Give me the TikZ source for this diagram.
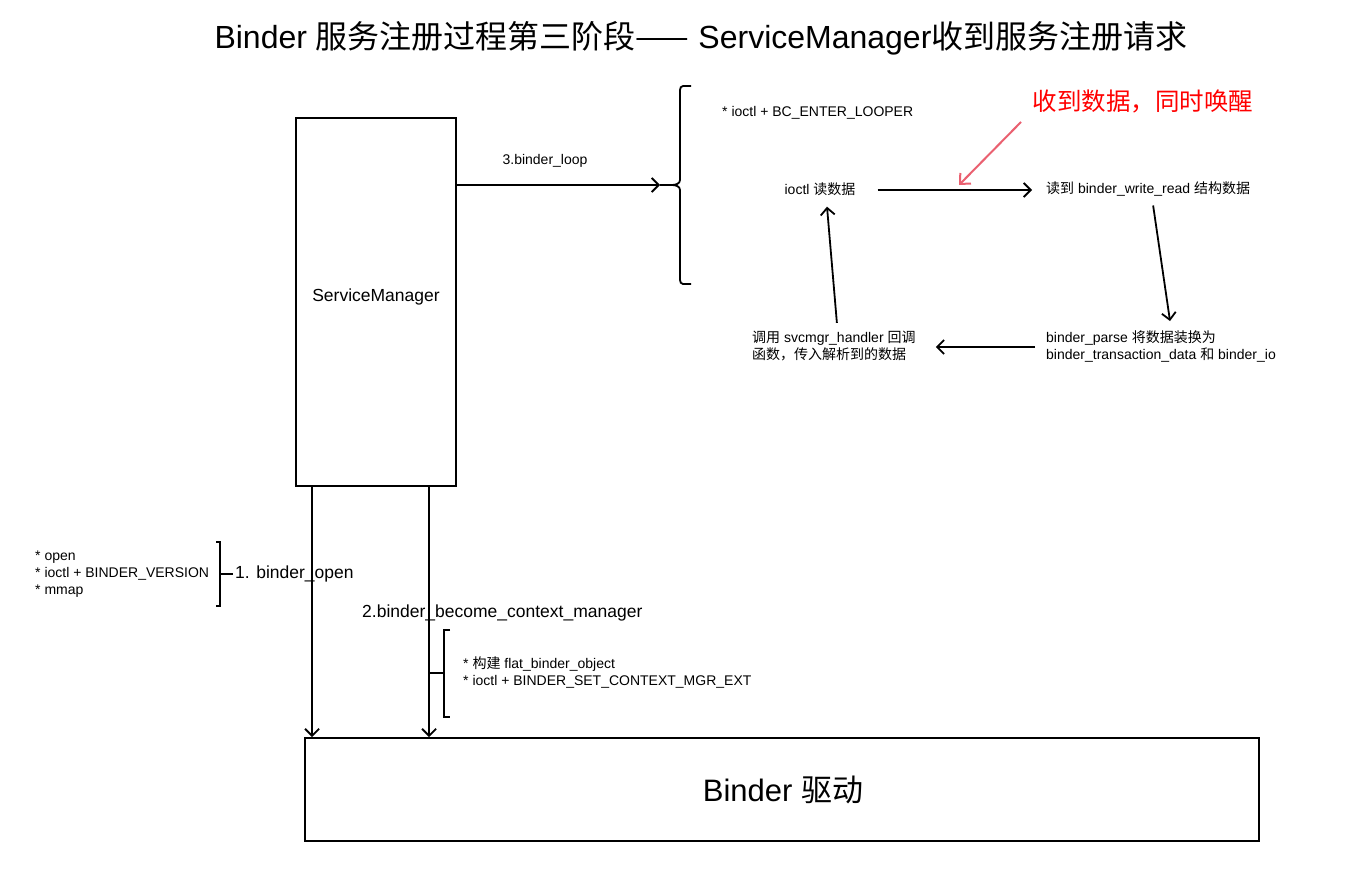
\documentclass[tikz,border=0pt]{standalone}
\usepackage{fontspec}
\setmainfont{Liberation Sans}
\newfontfamily\cjk{Noto Sans CJK SC}
\usetikzlibrary{arrows.meta}
\definecolor{wakered}{RGB}{234,96,112}
\begin{document}
\begin{tikzpicture}[x=1pt,y=-1pt,
  box/.style={draw, line width=1.8pt, inner sep=0},
  arr/.style={line width=1.8pt, -{Straight Barb[length=7pt,width=14pt,line width=1.8pt]}},
  small/.style={font=\fontsize{14}{17}\selectfont, inner sep=0, align=left},
  mid/.style={font=\fontsize{17.5}{20}\selectfont, inner sep=0},
  brk/.style={line width=1.8pt},
]
\useasboundingbox[fill=white] (0,0) rectangle (1363,881);

% title
\node[font=\fontsize{32}{36}\selectfont, inner sep=0] (title) at (701,38) {Binder {\cjk 服务注册过程第三阶段——} ServiceManager{\cjk 收到服务注册请求}};

% boxes
\node[box, minimum width=160pt, minimum height=368pt] (sm) at (376,302) {};
\node[mid] (smt) at (376,297) {ServiceManager};
\node[box, minimum width=954pt, minimum height=103pt] (drv) at (782,789.5) {};
\node[font=\fontsize{31}{36}\selectfont, inner sep=0] (drvt) at (783,790) {Binder {\cjk 驱动}};

% left notes
\node[small, anchor=west] (opennotes) at (35,574) {* open\\* ioctl + BINDER\_VERSION\\* mmap};
\draw[brk] (216,542) -- (220,542) -- (220,606) -- (216,606);
\draw[brk] (220,574) -- (233,574);
\node[mid, anchor=west] (l1) at (235,574) {1. binder\_open};
\node[mid, anchor=west] (l2) at (362,613) {2.binder\_become\_context\_manager};
\draw[brk] (450,630) -- (444,630) -- (444,717) -- (450,717);
\draw[brk] (430,673) -- (444,673);
\node[small, anchor=west] (ctxnotes) at (463,673) {* {\cjk 构建} flat\_binder\_object\\* ioctl + BINDER\_SET\_CONTEXT\_MGR\_EXT};

% vertical arrows
\draw[arr] ([xshift=17pt]sm.south west) -- ([xshift=17pt]sm.south west |- drv.north);
\draw[arr] ([xshift=134pt]sm.south west) -- ([xshift=134pt]sm.south west |- drv.north);

% loop arrow + brace
\coordinate (cusp) at (672,185);
\node[small] (loopl) at (545,161) {3.binder\_loop};
\draw[arr] ([yshift=117pt]sm.east) -- ([xshift=-12pt]cusp);
\draw[brk] ([xshift=-12pt]cusp) -- (cusp);
\draw[brk] (691,86) -- (683,86) to[out=180,in=90] (680,90) -- (680,180) to[out=-90,in=0] (cusp) to[out=0,in=90] (680,190) -- (680,280) to[out=-90,in=180] (683,284) -- (691,284);
\node[small, anchor=west] (looper) at (722,113) {* ioctl + BC\_ENTER\_LOOPER};

% cycle
\node[small] (rd) at (820,189) {ioctl {\cjk 读数据}};
\node[small, anchor=west] (wr) at (1046,189) {{\cjk 读到} binder\_write\_read {\cjk 结构数据}};
\node[small, anchor=west] (ps) at (1046,346) {binder\_parse {\cjk 将数据装换为}\\binder\_transaction\_data {\cjk 和} binder\_io};
\node[small, anchor=west] (hd) at (752,346) {{\cjk 调用} svcmgr\_handler {\cjk 回调}\\{\cjk 函数，传入解析到的数据}};

\draw[arr] ([xshift=22pt,yshift=-1pt]rd.east) -- ([xshift=-14pt,yshift=-1pt]wr.west);
\draw[arr] ([xshift=5pt,yshift=-9pt]wr.south) -- ([xshift=9pt,yshift=9pt]ps.north);
\draw[arr] ([xshift=-11pt,yshift=-1pt]ps.west) -- ([xshift=20pt,yshift=-1pt]hd.east);
\draw[arr] ([xshift=3pt,yshift=8pt]hd.north) -- ([xshift=7pt,yshift=-11pt]rd.south);

% wake note
\node[font=\fontsize{24.5}{28}\selectfont\cjk, text=red, inner sep=0] (wake) at (1143,101) {收到数据，同时唤醒};
\coordinate (wakept) at (959,185);
\draw[line width=2pt, wakered, -{Straight Barb[length=8pt,width=15pt,line width=2pt]}] ([xshift=-122pt,yshift=-21pt]wake.center) -- (wakept);
\end{tikzpicture}
\end{document}
